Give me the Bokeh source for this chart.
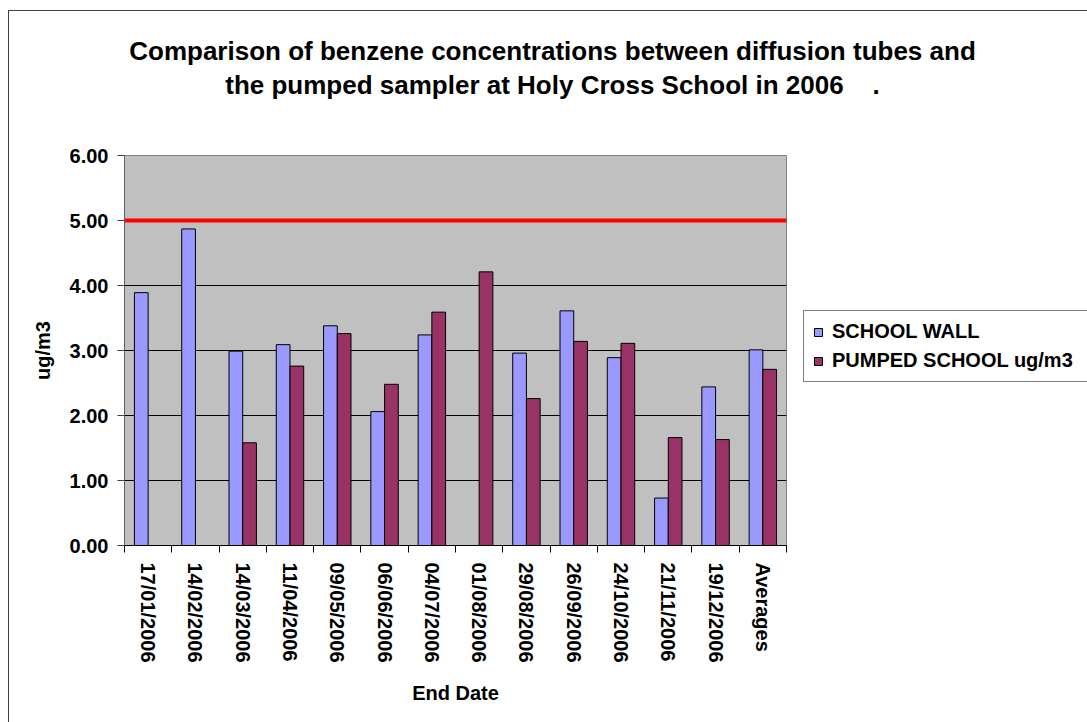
import numpy as np
from bokeh.plotting import figure
from bokeh.layouts import column, row
from bokeh.models import (ColumnDataSource, Range1d, FixedTicker, NumeralTickFormatter,
                          Span, Legend, LegendItem)
from bokeh.core.properties import value
from bokeh.embed import file_html
from bokeh.resources import INLINE

# ---- data ----
categories = ["17/01/2006", "14/02/2006", "14/03/2006", "11/04/2006", "09/05/2006",
              "06/06/2006", "04/07/2006", "01/08/2006", "29/08/2006", "26/09/2006",
              "24/10/2006", "21/11/2006", "19/12/2006", "Averages"]
school_wall = [3.89, 4.87, 2.99, 3.09, 3.38, 2.06, 3.24, None, 2.96, 3.61, 2.89, 0.73, 2.44, 3.01]
pumped_school = [None, None, 1.58, 2.76, 3.26, 2.48, 3.59, 4.21, 2.26, 3.14, 3.11, 1.66, 1.63, 2.71]
y_ticks = [0, 1, 2, 3, 4, 5, 6]
limit_value = 5.0
series_names = ["SCHOOL WALL", "PUMPED SCHOOL ug/m3"]
series_colors = ["#9999FF", "#993366"]

title_lines = ["Comparison of benzene concentrations between diffusion tubes and",
               "the pumped sampler at Holy Cross School in 2006\u00a0\u00a0\u00a0\u00a0."]

FONT = "Liberation Sans"
n = len(categories)
bar_w = 0.29

TOTAL_W, TOTAL_H = 1078, 711
TITLE_H = 134
MAIN_W = 786
MAIN_H = TOTAL_H - TITLE_H
LEG_W = TOTAL_W - MAIN_W

def series_source(vals, shift):
    xs, tops = [], []
    for i, v in enumerate(vals):
        if v is not None:
            xs.append(i + 0.5 + shift)
            tops.append(v)
    return ColumnDataSource(dict(x=xs, top=tops))

def blank(fig):
    fig.xgrid.grid_line_color = None
    fig.ygrid.grid_line_color = None
    fig.outline_line_color = None
    fig.background_fill_color = "white"
    fig.border_fill_color = "white"

# ---- title strip ----
pt = figure(width=TOTAL_W, height=TITLE_H, x_range=Range1d(0, TOTAL_W), y_range=Range1d(0, TITLE_H),
            output_backend="svg", toolbar_location=None, min_border=0,
            x_axis_location=None, y_axis_location=None)
blank(pt)
pt.text(x=[543, 543], y=[TITLE_H - 39, TITLE_H - 73], text=title_lines,
        text_font=value(FONT), text_font_size="26px", text_font_style="bold",
        text_color="black", text_align="center", text_baseline="alphabetic")

# ---- main chart ----
src_wall = series_source(school_wall, -bar_w / 2)
src_pump = series_source(pumped_school, bar_w / 2)

p = figure(width=MAIN_W, height=MAIN_H, x_range=Range1d(0, n), y_range=Range1d(0, 6),
           output_backend="svg", toolbar_location=None,
           min_border_left=115, min_border_top=10, min_border_right=9, min_border_bottom=177)
p.background_fill_color = "#C0C0C0"
p.outline_line_color = "#808080"
p.xgrid.grid_line_color = None
p.ygrid.grid_line_color = "black"
p.ygrid.ticker = FixedTicker(ticks=y_ticks)

p.vbar(x="x", top="top", width=bar_w, source=src_wall, fill_color=series_colors[0],
       line_color="black", line_width=1)
p.vbar(x="x", top="top", width=bar_w, source=src_pump, fill_color=series_colors[1],
       line_color="black", line_width=1)

p.add_layout(Span(location=limit_value, dimension="width", line_color="#FF0000", line_width=4))

xa = p.xaxis[0]
centers = [i + 0.5 for i in range(n)]
xa.ticker = FixedTicker(ticks=centers, minor_ticks=list(range(n + 1)))
xa.major_label_overrides = {c: lab for c, lab in zip(centers, categories)}
xa.major_label_orientation = -np.pi / 2
xa.major_tick_out = 0
xa.major_tick_in = 0
xa.minor_tick_out = 7
xa.minor_tick_in = 0
xa.minor_tick_line_color = "black"
xa.axis_line_color = "black"
xa.major_label_standoff = 10
xa.major_label_text_font = FONT
xa.major_label_text_font_style = "bold"
xa.major_label_text_font_size = "20px"
xa.major_label_text_color = "black"
xa.axis_label = "End Date"
xa.axis_label_text_font = FONT
xa.axis_label_text_font_style = "bold"
xa.axis_label_text_font_size = "20px"
xa.axis_label_text_color = "black"
xa.axis_label_standoff = 16

ya = p.yaxis[0]
ya.ticker = FixedTicker(ticks=y_ticks)
ya.formatter = NumeralTickFormatter(format="0.00")
ya.major_tick_out = 7
ya.major_tick_in = 0
ya.minor_tick_line_color = None
ya.major_tick_line_color = "#404040"
ya.axis_line_color = "#606060"
ya.major_label_standoff = 9
ya.major_label_text_font = FONT
ya.major_label_text_font_style = "bold"
ya.major_label_text_font_size = "20px"
ya.major_label_text_color = "black"
ya.axis_label = "ug/m3"
ya.axis_label_text_font = FONT
ya.axis_label_text_font_style = "bold"
ya.axis_label_text_font_size = "20px"
ya.axis_label_text_color = "black"
ya.axis_label_standoff = 13

# ---- legend strip (frame is aligned with the chart's frame) ----
pl = figure(width=LEG_W, height=MAIN_H, x_range=Range1d(0, 1), y_range=Range1d(0, 1),
            output_backend="svg", toolbar_location=None, min_border=0,
            x_axis_location=None, y_axis_location=None)
blank(pl)
offscreen = dict(x=[5.0], top=[0.5])
lr1 = pl.vbar(x="x", top="top", width=0.1, source=ColumnDataSource(offscreen),
              fill_color=series_colors[0], line_color="black", line_width=1)
lr2 = pl.vbar(x="x", top="top", width=0.1, source=ColumnDataSource(dict(offscreen)),
              fill_color=series_colors[1], line_color="black", line_width=1)
legend = Legend(items=[LegendItem(label=series_names[0], renderers=[lr1]),
                       LegendItem(label=series_names[1], renderers=[lr2])],
                location=(8, 163), orientation="vertical",
                label_text_font=FONT, label_text_font_style="bold", label_text_font_size="20px",
                label_text_color="black",
                label_height=22, label_width=275, glyph_width=10, glyph_height=10, label_standoff=9,
                spacing=6, padding=9,
                border_line_color="black", border_line_width=1,
                background_fill_color="white", background_fill_alpha=1.0, margin=0)
pl.add_layout(legend, "center")

layout = column(pt, row(p, pl, spacing=0), spacing=0)
layout.styles = {"margin-left": "8px", "margin-top": "10px",
                 "border-left": "1px solid #404040", "border-top": "1px solid #404040"}

open("out.html", "w").write(file_html(layout, INLINE))
